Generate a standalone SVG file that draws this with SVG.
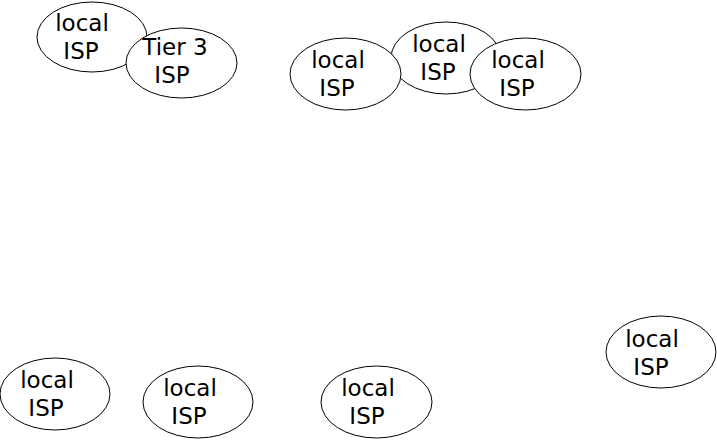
<svg xmlns="http://www.w3.org/2000/svg" width="717" height="445" viewBox="0 0 717 445">
<style>
ellipse{fill:#fff;stroke:#000;stroke-width:1}
text{font-family:"DejaVu Sans","Liberation Sans",sans-serif;font-size:23px;fill:#000;text-anchor:middle}
</style>
<rect width="717" height="445" fill="#fff"/>
<g id="connectors"></g>
<g id="isp1"><ellipse cx="92" cy="37" rx="55" ry="35"/><text x="82" y="31">local</text><text x="81" y="59">ISP</text></g>
<g id="tier3"><ellipse cx="181.5" cy="63" rx="55.5" ry="35"/><text x="175" y="55">Tier 3</text><text x="172" y="83">ISP</text></g>
<g id="isp3"><ellipse cx="446" cy="58" rx="55" ry="36"/><text x="439" y="52">local</text><text x="438" y="80">ISP</text></g>
<g id="isp2"><ellipse cx="345.5" cy="74" rx="55.5" ry="36"/><text x="338" y="68">local</text><text x="337" y="96">ISP</text></g>
<g id="isp4"><ellipse cx="525.5" cy="74" rx="55.5" ry="36"/><text x="518" y="68">local</text><text x="517" y="96">ISP</text></g>
<g id="isp5"><ellipse cx="55" cy="394" rx="55" ry="36"/><text x="47" y="388">local</text><text x="46" y="416">ISP</text></g>
<g id="isp6"><ellipse cx="198" cy="402" rx="55" ry="36"/><text x="190" y="396">local</text><text x="189" y="424">ISP</text></g>
<g id="isp7"><ellipse cx="376.5" cy="402" rx="55.5" ry="36"/><text x="368" y="396">local</text><text x="367" y="424">ISP</text></g>
<g id="isp8"><ellipse cx="661" cy="352" rx="55" ry="36"/><text x="652" y="347">local</text><text x="651" y="375">ISP</text></g>
</svg>
